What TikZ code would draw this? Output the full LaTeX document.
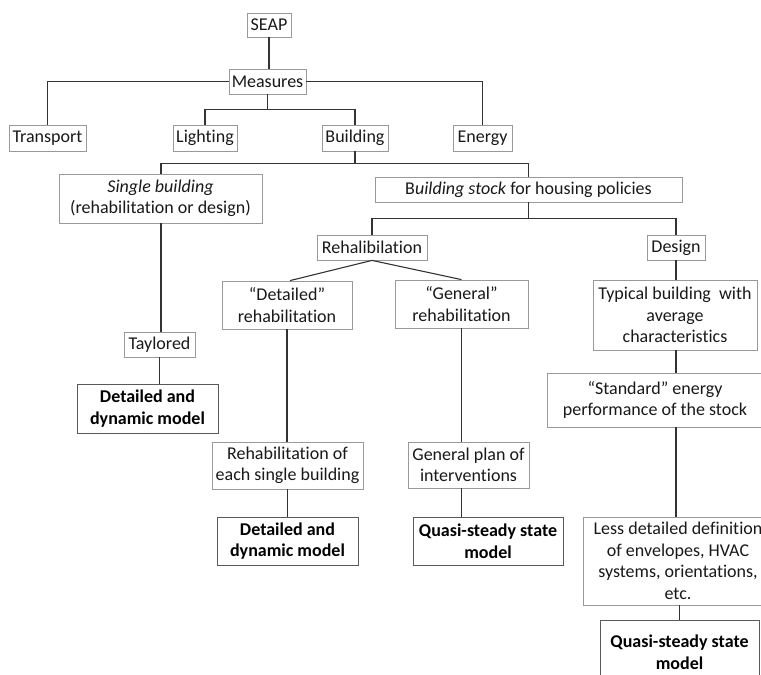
\documentclass[tikz,border=0pt]{standalone}
\usepackage{fontspec}
\setmainfont{Carlito}[Ligatures=NoCommon]
\usepackage{tikz}
\usetikzlibrary{positioning,calc}

\begin{document}
\begin{tikzpicture}[x=1pt,y=-1pt,
  box/.style={draw=black!40,line width=0.8pt,fill=white,inner sep=0pt,align=center,
    font=\fontsize{18}{21.5}\selectfont,text=black!90},
  modelbox/.style={box,draw=black!65,font=\fontsize{18}{21.5}\selectfont\bfseries,text=black},
  link/.style={draw=black!80,line width=1.1pt}]
  \useasboundingbox (0,0) rectangle (761,675);
  % top levels
  \node[box,minimum width=44,minimum height=24] (seap) at (269,25) {SEAP};
  \node[box,minimum width=77,minimum height=25] (measures) at (267.5,81.5) {Measures};
  \node[box,minimum width=77,minimum height=26] (transport) at (47.5,138) {Transport};
  \node[box,minimum width=64,minimum height=26] (lighting) at (205,138) {Lighting};
  \node[box,minimum width=66,minimum height=26] (building) at (355,138) {Building};
  \node[box,minimum width=59,minimum height=26] (energy) at (482.5,138) {Energy};
  \node[box,minimum width=203,minimum height=49] (single) at (160.5,198.5)
    {\textit{Single building}\\(rehabilitation or design)};
  \node[box,minimum width=307,minimum height=25] (stock) at (528.5,189.5)
    {B\textit{uilding stock} for housing policies};
  \node[box,minimum width=110,minimum height=25] (rehab) at (372,247.5) {Rehalibilation};
  \node[box,minimum width=58,minimum height=25] (design) at (676,247.5) {Design};
  % single building branch
  \node[box,minimum width=71,minimum height=25] (taylored) at (159.5,344.5) {Taylored};
  \node[modelbox,minimum width=141,minimum height=49] (dynA) at (147.5,408.5)
    {Detailed and\\dynamic model};
  % rehabilitation branch
  \node[box,minimum width=130,minimum height=48] (detrehab) at (287,305)
    {``Detailed''\\rehabilitation};
  \node[box,minimum width=133,minimum height=48] (genrehab) at (461.5,304)
    {``General''\\rehabilitation};
  \node[box,minimum width=151,minimum height=47] (eachbldg) at (287.5,465.5)
    {Rehabilitation of\\each single building};
  \node[modelbox,minimum width=141,minimum height=48] (dynB) at (287.5,541)
    {Detailed and\\dynamic model};
  \node[box,minimum width=121,minimum height=46] (genplan) at (468.5,465)
    {General plan of\\interventions};
  \node[modelbox,minimum width=150,minimum height=48] (quasiA) at (488,541)
    {Quasi-steady state\\model};
  % design branch
  \node[box,minimum width=164,minimum height=70] (typical) at (675,315)
    {Typical building\ \ with\\average\\characteristics};
  \node[box,minimum width=216,minimum height=54] (standard) at (655,400)
    {``Standard'' energy\\performance of the stock};
  \node[box,minimum width=190,minimum height=88] (lessdet) at (678,561)
    {Less detailed definition\\of envelopes, HVAC\\systems, orientations,\\etc.};
  \node[modelbox,minimum width=159,minimum height=64] (quasiB) at (679.5,652)
    {Quasi-steady state\\model};

  % connectors
  \draw[link] (seap) -- (seap |- measures.north);
  \draw[link] (measures.west) -| (transport.north);
  \draw[link] (measures.east) -| (energy.north);
  \draw[link] (measures.south) -- ++(0,15) coordinate (mbus);
  \draw[link] (mbus) -| (lighting.north);
  \draw[link] (mbus) -| (building.north);
  \draw[link] (building.south) -- ++(0,12) coordinate (bbus);
  \draw[link] (bbus) -| ([xshift=0.5pt]single.north);
  \draw[link] (bbus) -| (stock.north);
  \draw[link] (stock.south) -- ++(0,16) coordinate (sbus);
  \draw[link] (sbus) -| (rehab.north);
  \draw[link] (sbus) -| (design.north);
  \draw[link] ([xshift=0.5pt]single.south) -- ([xshift=0.5pt]single.south |- taylored.north);
  \draw[link] (taylored.south) -- (taylored.south |- dynA.north);
  \draw[link] (rehab.south) -- ([xshift=3pt]detrehab.north);
  \draw[link] (rehab.south) -- (genrehab.north);
  \draw[link] (detrehab.south) -- (detrehab.south |- eachbldg.north);
  \draw[link] (eachbldg) -- (dynB);
  \draw[link] (genrehab.south) -- (genrehab.south |- genplan.north);
  \draw[link] (genrehab.south |- genplan.south) -- (genrehab.south |- quasiA.north);
  \draw[link] (design) -- (design.south |- typical.north);
  \draw[link] (design.south |- typical.south) -- (design.south |- standard.north);
  \draw[link] (design.south |- standard.south) -- (design.south |- lessdet.north);
  \draw[link] (lessdet.south -| quasiB.north) -- (quasiB.north);
\end{tikzpicture}
\end{document}
